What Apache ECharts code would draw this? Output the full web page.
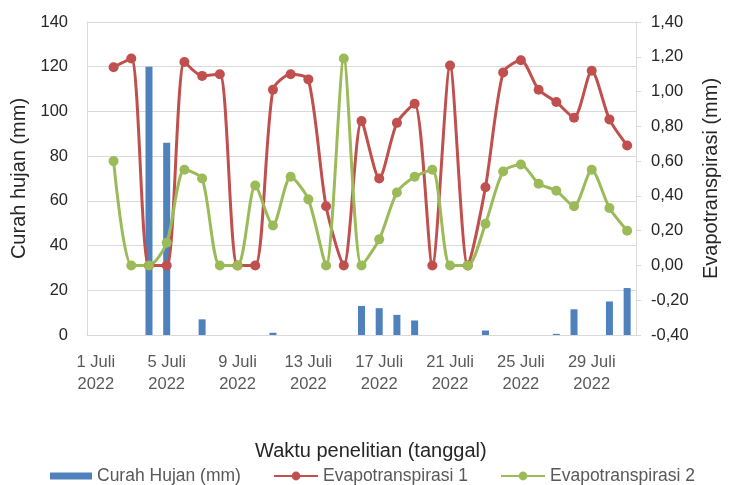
<!DOCTYPE html>
<html>
<head>
<meta charset="utf-8">
<script src="https://cdn.jsdelivr.net/npm/echarts@6/dist/echarts.min.js"></script>
<style>
html,body{margin:0;padding:0;background:#fff;}
#chart{width:729px;height:485px;}
</style>
</head>
<body>
<div id="chart"></div>
<script>
// Days of July 2022
var days = [];
for (var d = 1; d <= 31; d++) { days.push(d + ' Juli\n2022'); }

var curahHujan = [0, 0, 0, 120, 86, 0, 7, 0, 0, 0, 1, 0, 0, 0, 0, 13, 12, 9, 6.5, 0, 0, 0, 2, 0, 0, 0, 0.5, 11.5, 0, 15, 21];
var evapo1 = [null, 1.14, 1.19, 0, 0, 1.17, 1.09, 1.10, 0, 0, 1.01, 1.10, 1.07, 0.34, 0, 0.83, 0.50, 0.82, 0.93, 0, 1.15, 0, 0.45, 1.11, 1.18, 1.01, 0.94, 0.85, 1.12, 0.84, 0.69];
var evapo2 = [null, 0.60, 0, 0, 0.13, 0.55, 0.50, 0, 0, 0.46, 0.23, 0.51, 0.38, 0, 1.19, 0, 0.15, 0.42, 0.51, 0.55, 0, 0, 0.24, 0.54, 0.58, 0.47, 0.43, 0.34, 0.55, 0.33, 0.20];

var FONT = 'Liberation Sans';
var legendText = {fontFamily: FONT, fontSize: 17.5, color: '#595959'};
var chart = echarts.init(document.getElementById('chart'), null, {renderer: 'canvas'});
chart.setOption({
  animation: false,
  backgroundColor: '#ffffff',
  textStyle: {fontFamily: FONT},
  title: {
    text: 'Waktu penelitian (tanggal)',
    left: 255, top: 441,
    padding: 0,
    textStyle: {fontFamily: FONT, fontSize: 20, fontWeight: 'normal', color: '#262626'}
  },
  legend: [
    {
      left: 50, top: 467, padding: 0,
      itemWidth: 42, itemHeight: 7,
      textStyle: legendText,
      data: [{name: 'Curah Hujan (mm)', icon: 'rect'}]
    },
    {
      left: 273, top: 467, padding: 0,
      itemWidth: 44, itemHeight: 11,
      textStyle: legendText,
      data: ['Evapotranspirasi 1']
    },
    {
      left: 500, top: 467, padding: 0,
      itemWidth: 44, itemHeight: 11,
      textStyle: legendText,
      data: ['Evapotranspirasi 2']
    }
  ],
  grid: {left: 87, right: 89, top: 22, bottom: 150, containLabel: false},
  xAxis: {
    type: 'category',
    data: days,
    boundaryGap: true,
    axisLine: {show: true, lineStyle: {color: '#D9D9D9', width: 1}},
    axisTick: {show: false},
    axisLabel: {
      interval: 3, margin: 16, lineHeight: 22,
      fontFamily: FONT, fontSize: 16.5, color: '#595959'
    },
    splitLine: {show: false}
  },
  yAxis: [
    {
      type: 'value', min: 0, max: 140, interval: 20,
      name: 'Curah hujan (mm)', nameLocation: 'middle', nameGap: 57,
      nameTextStyle: {fontFamily: FONT, fontSize: 20, color: '#262626'},
      axisLine: {show: true, lineStyle: {color: '#D9D9D9'}},
      axisTick: {show: false},
      axisLabel: {margin: 19, fontFamily: FONT, fontSize: 16.5, color: '#262626'},
      splitLine: {show: true, lineStyle: {color: '#D9D9D9', width: 1}}
    },
    {
      type: 'value', min: -0.4, max: 1.4, interval: 0.2,
      name: 'Evapotranspirasi (mm)', nameLocation: 'middle', nameGap: 65,
      nameTextStyle: {fontFamily: FONT, fontSize: 20, color: '#262626'},
      axisLine: {show: true, lineStyle: {color: '#D9D9D9'}},
      axisTick: {show: true, length: 5, lineStyle: {color: '#D9D9D9'}},
      axisLabel: {
        margin: 15, fontFamily: FONT, fontSize: 16.5, color: '#262626',
        formatter: function (v) { return v.toFixed(2).replace('.', ','); }
      },
      splitLine: {show: false}
    }
  ],
  series: [
    {
      name: 'Curah Hujan (mm)', type: 'bar', yAxisIndex: 0,
      data: curahHujan, barWidth: 7,
      itemStyle: {color: '#4F81BD'}
    },
    {
      name: 'Evapotranspirasi 1', type: 'line', yAxisIndex: 1,
      data: evapo1, smooth: 0.25,
      symbol: 'circle', symbolSize: 10,
      lineStyle: {color: '#C0504D', width: 3},
      itemStyle: {color: '#C0504D'}
    },
    {
      name: 'Evapotranspirasi 2', type: 'line', yAxisIndex: 1,
      data: evapo2, smooth: 0.25,
      symbol: 'circle', symbolSize: 10,
      lineStyle: {color: '#9BBB59', width: 3},
      itemStyle: {color: '#9BBB59'}
    }
  ]
});
</script>
</body>
</html>
